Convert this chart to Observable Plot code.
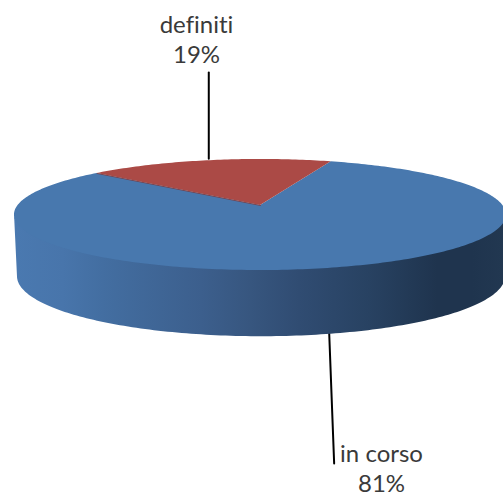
<!DOCTYPE html>
<html>
<head>
<meta charset="utf-8">
<script src="https://cdn.jsdelivr.net/npm/d3@7"></script>
<script src="https://cdn.jsdelivr.net/npm/@observablehq/plot@0.6"></script>
<style>
html,body{margin:0;padding:0;background:#fff;overflow:hidden}
svg{display:block;font-variant-ligatures:none}
</style>
</head>
<body>
<div id="chart"></div>
<script>
// Data
const categories = ["definiti", "in corso"];
const shares = [19, 81];
const sliceColors = ["#ab4a46", "#4878ae"];

// Look of the 3D pie
const firstAngle = -48.6;
const perspective = 0.171;
const topDisc = {cx: 260, cy: 205, ax: 242.4, ay: 53.9};
const bottomDisc = {cx: 261, cy: 266, ax: 240.4, ay: 58.2};
const wallStops = [[0, "#4a79b0"], [0.1, "#4875ab"], [0.18, "#436ea1"], [0.38, "#3c5f8d"], [0.48, "#37567f"],
  [0.58, "#304c72"], [0.72, "#284262"], [0.86, "#1f344e"], [0.93, "#1f344e"], [1, "#223851"]];
const labelAnchors = [[196, 38], [381, 467]];
const leaderEnds = [72, 463];

function project(disc, deg) {
  const t = deg * Math.PI / 180, X = Math.sin(t), Y = Math.cos(t), w = 1 + perspective * Y;
  return [disc.cx + disc.ax * X / w, disc.cy - disc.ay * Y / w];
}

// Slices, swept clockwise from the shares
const total = d3.sum(shares);
let start = firstAngle;
const slices = categories.map((name, i) => {
  const sweep = 360 * shares[i] / total;
  const s = {name, share: shares[i], a0: start, a1: start + sweep, mid: start + sweep / 2};
  start += sweep;
  return s;
});

const fan = slices.flatMap(s => {
  const n = Math.ceil(s.a1 - s.a0);
  return d3.range(n + 1).map(k => {
    const [x2, y2] = project(topDisc, s.a0 + (s.a1 - s.a0) * k / n);
    return {name: s.name, x1: topDisc.cx, y1: topDisc.cy, x2, y2};
  });
});

const wall = d3.range(100, 261).map(a => {
  const [x1, y1] = project(topDisc, a), [x2, y2] = project(bottomDisc, a);
  return {x1, y1: y1 - 1.5, x2, y2};
});

// Leader lines start on the rim at each slice's middle
const leaders = slices.flatMap((s, i) => {
  const front = Math.cos(s.mid * Math.PI / 180) < 0;
  const [x, y] = project(front ? bottomDisc : topDisc, s.mid);
  const xEnd = front ? x + 1 : x;
  return [{i, x: front ? x - 4 : x, y: y - 2}, {i, x: xEnd, y: leaderEnds[i]}];
});

// Darker seam along the slice's left radius
const [seamX, seamY] = project(topDisc, slices[0].a0);
const seam = [{x: seamX, y: seamY}, {x: topDisc.cx, y: topDisc.cy}];

const labels = slices.map((s, i) => ({
  x: labelAnchors[i][0], y: labelAnchors[i][1], text: `${s.name}\n${s.share}%`
}));

const defs = () => {
  const ns = "http://www.w3.org/2000/svg";
  const d = document.createElementNS(ns, "defs");
  const g = document.createElementNS(ns, "linearGradient");
  g.setAttribute("id", "wallShade");
  g.setAttribute("x1", "0"); g.setAttribute("x2", "1"); g.setAttribute("y1", "0"); g.setAttribute("y2", "0");
  for (const [o, c] of wallStops) {
    const st = document.createElementNS(ns, "stop");
    st.setAttribute("offset", o); st.setAttribute("stop-color", c);
    g.appendChild(st);
  }
  d.appendChild(g);
  return d;
};

const chart = Plot.plot({
  width: 503, height: 495,
  margin: 0,
  style: {background: "#fff", fontFamily: "Lato, sans-serif"},
  x: {domain: [0, 503], range: [0, 503], axis: null},
  y: {domain: [0, 495], range: [0, 495], axis: null},
  color: {domain: categories, range: sliceColors},
  marks: [
    defs,
    Plot.line(leaders, {x: "x", y: "y", z: "i", stroke: "#000", strokeWidth: 2}),
    Plot.area(wall, {x1: "x1", y1: "y1", x2: "x2", y2: "y2", fill: "url(#wallShade)"}),
    Plot.area(fan.filter(d => d.name === "in corso"), {x1: "x1", y1: "y1", x2: "x2", y2: "y2", fill: "name"}),
    Plot.area(fan.filter(d => d.name === "definiti"), {x1: "x1", y1: "y1", x2: "x2", y2: "y2", fill: "name"}),
    Plot.line(seam, {x: "x", y: "y", stroke: "#7a3a40", strokeWidth: 0.8}),
    Plot.text(labels, {x: "x", y: "y", text: "text", fontSize: 24, lineHeight: 1.27, fill: "#3a3a3a", textAnchor: "middle", lineAnchor: "middle"})
  ]
});
document.getElementById("chart").appendChild(chart);
</script>
</body>
</html>
